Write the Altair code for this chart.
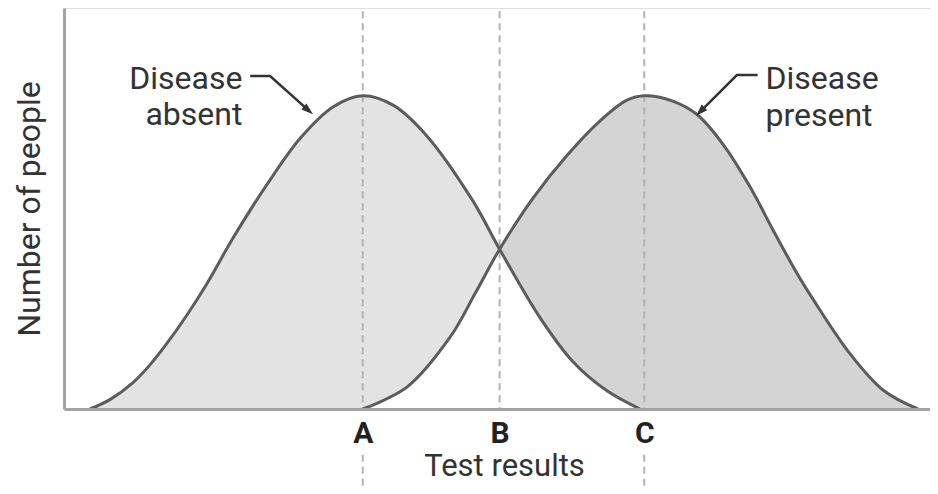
import altair as alt
import pandas as pd

# ---- data (x: test result, y: number of people) ----
absent_x = [3.0, 5.3, 8.0, 9.9, 11.9, 14.2, 16.5, 19.5, 23.4, 27.3, 31.1, 34.5,
            38.0, 41.8, 47.2, 50.3, 55.0, 58.8, 62.7, 66.5]
absent_y = [0, 3, 8.5, 14, 21, 30, 40, 54.5, 71.5, 86.5, 96.5, 100,
            97, 87.5, 66.5, 51, 29, 15, 5.8, 0]
present_x = [34.5, 39.6, 44.6, 47.5, 50.3, 54.2, 58.1, 61.9, 65.0, 67.0, 70.3,
             73.1, 76.1, 79.2, 81.9, 84.6, 86.5, 90.8, 94.6, 98.6]
present_y = [0, 7, 23, 37, 51, 67.5, 81, 92, 98.6, 100, 98.3,
             94, 84.5, 71, 57, 43.5, 35, 17.5, 6, 0]

marker_names = ["A", "B", "C"]
marker_x = [34.5, 50.3, 67.0]
guide_top = 127
below_top = -14.6
below_bottom = -25.8
below_markers = ["A", "C"]

ann_text = ["Disease", "absent", "Disease", "present"]
ann_x = [20.6, 20.6, 81.0, 81.0]
ann_y = [102.2, 90.8, 102.2, 90.4]
ann_side = ["right", "right", "left", "left"]

arrow_group = ["absent", "absent", "absent", "present", "present", "present"]
arrow_x = [21.5, 23.8, 28.2, 80.1, 77.7, 73.5]
arrow_y = [106.3, 106.3, 95.4, 106.6, 106.6, 95.0]
head_x = [28.2, 73.5]
head_y = [95.4, 95.0]
head_angle = [130, 225]

# ---- tables ----
curves = pd.DataFrame({
    "series": ["absent"] * len(absent_x) + ["present"] * len(present_x),
    "x": absent_x + present_x,
    "y": absent_y + present_y,
})
guides = pd.DataFrame({"name": marker_names, "x": marker_x,
                       "y": [guide_top] * 3, "y2": [0] * 3})
guides_low = pd.DataFrame({
    "name": below_markers,
    "x": [marker_x[marker_names.index(n)] for n in below_markers],
    "y": [below_top] * len(below_markers),
    "y2": [below_bottom] * len(below_markers)})
ann = pd.DataFrame({"text": ann_text, "x": ann_x, "y": ann_y, "side": ann_side})
arrows = pd.DataFrame({"g": arrow_group, "x": arrow_x, "y": arrow_y,
                       "i": list(range(len(arrow_x)))})
heads = pd.DataFrame({"x": head_x, "y": head_y, "angle": head_angle})

FONT = "Roboto, DejaVu Sans Condensed, sans-serif"
INTERP = "catmull-rom"
label_expr = " : ".join(
    [f"abs(datum.value - {v}) < 1 ? '{n}'" for n, v in zip(marker_names, marker_x)]
) + " : ''"

xscale = alt.Scale(domain=[0, 100], nice=False, zero=False)
yscale = alt.Scale(domain=[0, 128], nice=False)
xaxis = alt.Axis(values=marker_x, labelExpr=label_expr, ticks=False, grid=False,
                 domainColor="#a3a3a3", domainWidth=3, labelFont=FONT,
                 labelFontSize=30, labelFontWeight="bold", labelColor="#222222",
                 labelPadding=9, title="Test results", titleFont=FONT,
                 titleFontSize=31, titleFontWeight="normal", titleColor="#333333",
                 titlePadding=3, titleX=440, zindex=1)
yaxis = alt.Axis(labels=False, ticks=False, grid=False, domainColor="#a3a3a3",
                 domainWidth=3, title="Number of people", titleFont=FONT,
                 titleFontSize=32, titleFontWeight="normal", titleColor="#333333",
                 titlePadding=18, zindex=1)
X = alt.X("x:Q", scale=xscale, axis=xaxis)
Y = alt.Y("y:Q", scale=yscale, axis=yaxis, stack=None)

base = alt.Chart(curves)
fill_absent = base.transform_filter("datum.series == 'absent'").mark_area(
    color="#e3e3e3", interpolate=INTERP).encode(x=X, y=Y)
fill_present = base.transform_filter("datum.series == 'present'").mark_area(
    color="#d4d4d4", interpolate=INTERP).encode(x=X, y=Y)
bx = marker_x[1]
overlap_left = base.transform_filter(
    f"datum.series == 'present' && datum.x <= {bx}"
).mark_area(color="#ffffff", interpolate=INTERP).encode(x=X, y=Y)
overlap_right = base.transform_filter(
    f"datum.series == 'absent' && datum.x >= {bx}"
).mark_area(color="#ffffff", interpolate=INTERP).encode(x=X, y=Y)

guide_rules = alt.Chart(guides).mark_rule(
    color="#b3b3b3", strokeWidth=2, strokeDash=[7, 5], clip=False).encode(
    x=X, y=Y, y2="y2:Q")
guide_low = alt.Chart(guides_low).mark_rule(
    color="#b3b3b3", strokeWidth=2, strokeDash=[7, 5], clip=False).encode(
    x=X, y=Y, y2="y2:Q")

lines = base.mark_line(color="#5c5c5c", strokeWidth=3, interpolate=INTERP).encode(
    x=X, y=Y, detail="series:N")

arrow_lines = alt.Chart(arrows).mark_line(color="#333333", strokeWidth=2.5).encode(
    x=X, y=Y, detail="g:N", order="i:Q")
arrow_heads = alt.Chart(heads).mark_point(
    shape="M0,-1L0.62,0.9L-0.62,0.9Z", filled=True, color="#333333", size=160,
    opacity=1).encode(x=X, y=Y, angle=alt.Angle("angle:Q", scale=None))

text_r = alt.Chart(ann).transform_filter("datum.side == 'right'").mark_text(
    align="right", baseline="alphabetic", font=FONT, fontSize=32, color="#333333").encode(
    x=X, y=Y, text="text:N")
text_l = alt.Chart(ann).transform_filter("datum.side == 'left'").mark_text(
    align="left", baseline="alphabetic", font=FONT, fontSize=32, color="#333333").encode(
    x=X, y=Y, text="text:N")

chart = alt.layer(
    fill_absent, fill_present, overlap_left, overlap_right, guide_rules, guide_low,
    lines, arrow_lines, arrow_heads, text_r, text_l
).properties(
    width=866, height=401,
    autosize=alt.AutoSizeParams(type="none"),
    padding={"left": 56, "top": 0, "right": 0, "bottom": 77},
).configure_view(stroke=None).configure(background="white")

chart.save("out.html", embed_options={"renderer": "svg", "actions": False})
